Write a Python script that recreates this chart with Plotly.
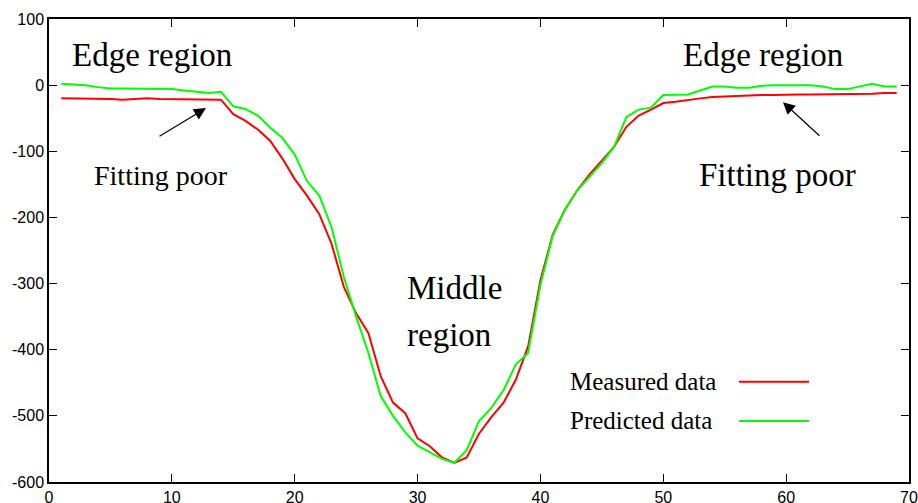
import plotly.graph_objects as go

x_vals = list(range(1, 70))

measured = [-20, -20, -20, -21, -21, -22, -21, -20, -21, -21,
            -21, -21, -21, -22, -44, -54, -67, -84, -111, -142,
            -167, -195, -240, -305, -345, -375, -440, -480, -496, -534,
            -546, -563, -571, -563, -527, -502, -480, -445, -395, -295,
            -226, -188, -159, -135, -114, -93, -63, -46, -37, -27,
            -25, -22, -20, -18, -17, -16, -15, -15, -15, -14,
            -14, -14, -14, -14, -13, -13, -13, -12, -12]

predicted = [2, 1, 0, -3, -5, -5, -5, -5, -6, -6,
             -8, -10, -12, -10, -32, -36, -46, -64, -80, -105,
             -145, -167, -215, -290, -350, -405, -470, -500, -525, -545,
             -555, -565, -571, -552, -508, -488, -461, -422, -405, -302,
             -228, -188, -159, -138, -118, -93, -48, -37, -34, -15,
             -15, -14, -8, -2, -2, -4, -4, -1, 0, 0,
             0, 0, -2, -6, -6, -2, 2, -2, -2]

series_names = ["Measured data", "Predicted data"]
series_colors = ["#ff0000", "#00ff00"]

x_ticks = [0, 10, 20, 30, 40, 50, 60, 70]
y_ticks = [100, 0, -100, -200, -300, -400, -500, -600]

fig = go.Figure()
for name, vals, col in zip(series_names, [measured, predicted], series_colors):
    fig.add_trace(go.Scatter(x=x_vals, y=vals, mode="lines", name=name,
                             line=dict(color=col, width=2), showlegend=False))

serif = "Liberation Serif, Times New Roman, serif"

def txt(x, y, s, size, xanchor="center"):
    fig.add_annotation(x=x, y=y, xref="x", yref="y", text=s, showarrow=False,
                       xanchor=xanchor, yanchor="middle",
                       font=dict(family=serif, size=size, color="black"))

txt(8.38, 45, "Edge region", 33)
txt(58.1, 45, "Edge region", 33)
txt(9.12, -136, "Fitting poor", 28)
txt(59.3, -136, "Fitting poor", 33)
txt(28.98, -307, "Middle", 33, "left")
txt(28.98, -377, "region", 33, "left")

# arrows
fig.add_annotation(x=12.78, y=-34.7, xref="x", yref="y", text="", showarrow=True,
                   ax=-48, ay=29, arrowhead=2, arrowsize=2, arrowwidth=1.2,
                   arrowcolor="black")
fig.add_annotation(x=59.74, y=-25.7, xref="x", yref="y", text="", showarrow=True,
                   ax=38, ay=35, arrowhead=2, arrowsize=2, arrowwidth=1.2,
                   arrowcolor="black")

# custom legend (text left, line sample right)
leg_y = [-448.6, -507.6]
for name, col, ly in zip(series_names, series_colors, leg_y):
    fig.add_annotation(x=42.24, y=ly, xref="x", yref="y", text=name, showarrow=False,
                       xanchor="left", yanchor="middle",
                       font=dict(family=serif, size=25, color="black"))
    fig.add_shape(type="line", xref="x", yref="y", x0=56.16, x1=61.86, y0=ly, y1=ly,
                  line=dict(color=col, width=2))

axis_common = dict(showgrid=False, zeroline=False, showline=True, linecolor="black",
                   linewidth=1.5, mirror="ticks", ticks="inside", ticklen=8,
                   tickwidth=1, tickcolor="black", automargin=False,
                   tickfont=dict(family="Liberation Sans, Arial, sans-serif",
                                 size=16, color="black"))

fig.update_xaxes(range=[0, 70], tickvals=x_ticks, ticktext=[str(v) for v in x_ticks],
                 **axis_common)
fig.update_yaxes(range=[-600, 100], tickvals=y_ticks, ticktext=[str(v) for v in y_ticks],
                 **axis_common)

fig.update_layout(width=918, height=503, margin=dict(l=49, r=9, t=19, b=21),
                  paper_bgcolor="white", plot_bgcolor="white")

fig.write_html("out.html")
